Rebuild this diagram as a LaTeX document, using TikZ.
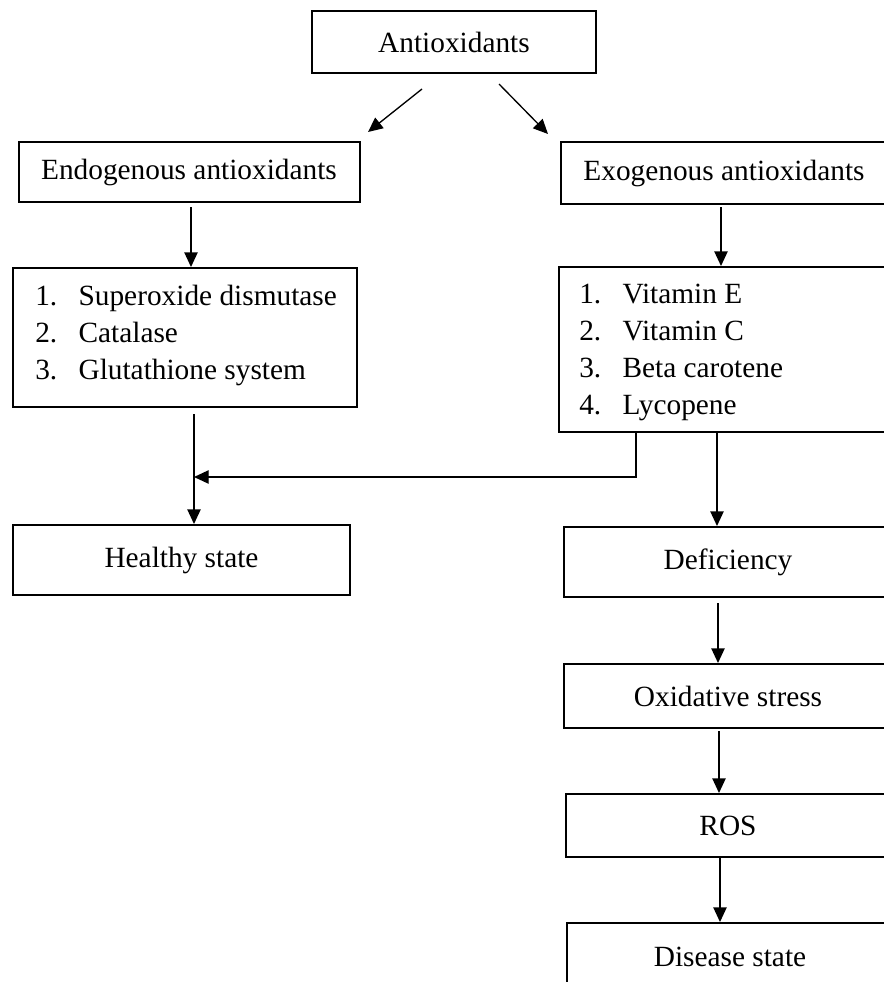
\documentclass[tikz,border=0pt]{standalone}
\usepackage{fontspec}
\setmainfont{Liberation Serif}
\usetikzlibrary{arrows.meta,calc}
\begin{document}
\begin{tikzpicture}[x=0.75pt,y=-0.75pt,
  box/.style={draw, line width=1.5pt, rectangle, inner sep=0pt, font=\fontsize{22}{27.75}\selectfont},
  txt/.style={inner sep=0pt, font=\fontsize{22}{27.75}\selectfont, anchor=west},
  arr/.style={line width=1pt, -{Triangle[length=11pt,width=10pt]}}]
\useasboundingbox (0,0) rectangle (884,982);
\clip (0,0) rectangle (884,982);

\node[box, minimum width=213pt, minimum height=46.5pt] (anti) at (454,42) {Antioxidants};
\node[box, minimum width=255.75pt, minimum height=45pt] (endo) at (189,172) {Endogenous antioxidants};
\node[box, minimum width=244.5pt, minimum height=46.5pt] (exo) at (724,173) {Exogenous antioxidants};
\node[box, minimum width=258pt, minimum height=104.25pt] (endolist) at (185,337.5) {};
\node[txt] (endotext) at (35,335) {\begin{tabular}{@{}p{32.5pt}@{}l@{}}1. & Superoxide dismutase\\ 2. & Catalase\\ 3. & Glutathione system\end{tabular}};
\node[box, minimum width=249pt, minimum height=123.75pt] (exolist) at (725,349.5) {};
\node[txt] (exotext) at (579,352) {\begin{tabular}{@{}p{32.5pt}@{}l@{}}1. & Vitamin E\\ 2. & Vitamin C\\ 3. & Beta carotene\\ 4. & Lycopene\end{tabular}};
\node[box, minimum width=252.75pt, minimum height=52.5pt] (healthy) at (181.5,560) {Healthy state};
\node[box, minimum width=246pt, minimum height=52.5pt] (defic) at (728,562) {Deficiency};
\node[box, minimum width=246pt, minimum height=48pt] (oxs) at (728,696) {Oxidative stress};
\node[box, minimum width=243pt, minimum height=47.25pt] (ros) at (728,825.5) {ROS};
\node[box, minimum width=244.5pt, minimum height=50.25pt] (disease) at (730,956.5) {Disease state};

\draw[arr] ($(anti.south)+(-32,15)$) -- ($(endo.north)+(179,-9)$);
\draw[arr] ($(anti.south)+(45,10)$) -- ($(exo.north)+(-176,-7)$);
\draw[arr] ($(endo.south)+(2,4)$) -- ($(endolist.north)+(6,0)$);
\draw[arr] ($(exo.south)+(-3,2)$) -- ($(exolist.north)+(-4,0)$);
\draw[arr] ($(endolist.south)+(9,6)$) -- ($(healthy.north)+(12.5,0)$);
\coordinate (join) at ($(healthy.north)+(12.5,-47)$);
\draw[arr] ($(exolist.south)+(-89,0)$) |- (join);
\draw[arr] ($(exolist.south)+(-8,0)$) -- ($(defic.north)+(-11,0)$);
\draw[arr] ($(defic.south)+(-10,5)$) -- ($(oxs.north)+(-10,0)$);
\draw[arr] ($(oxs.south)+(-9,2)$) -- ($(ros.north)+(-9,0)$);
\draw[arr] ($(ros.south)+(-8,0)$) -- ($(disease.north)+(-10,0)$);
\end{tikzpicture}
\end{document}
